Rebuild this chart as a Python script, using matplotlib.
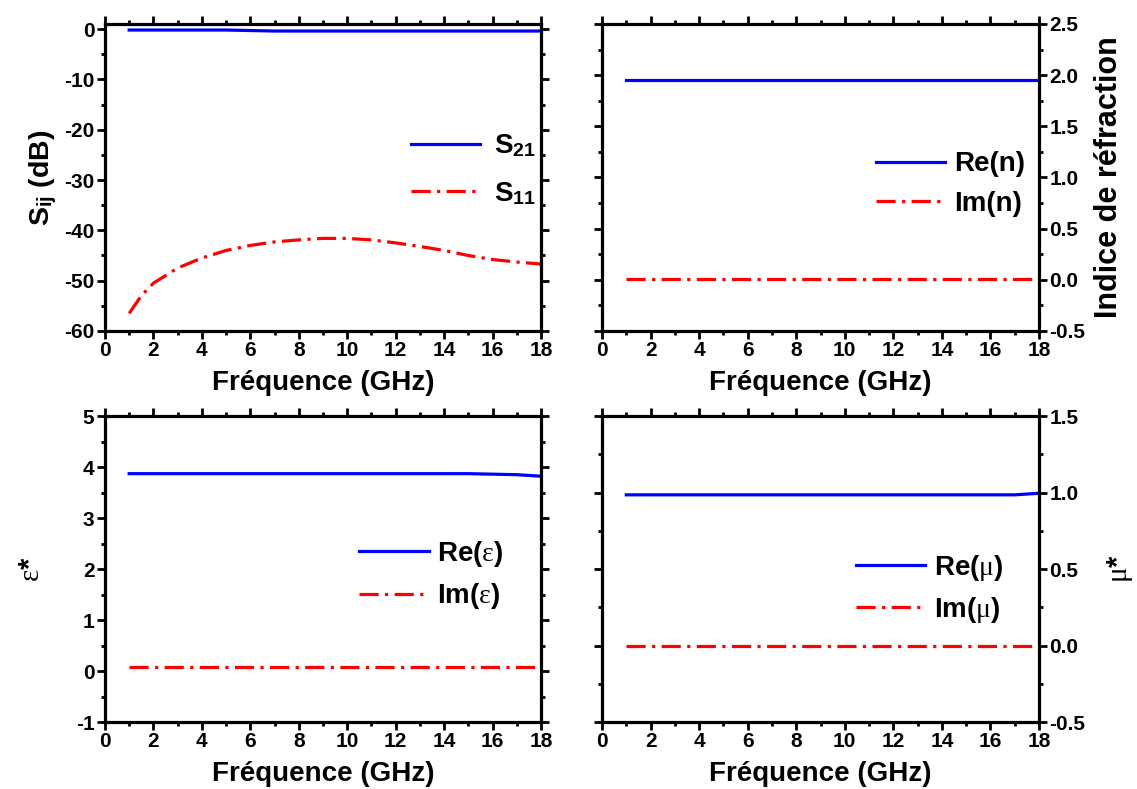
import numpy as np
import matplotlib
matplotlib.use("Agg")
import matplotlib.pyplot as plt
from matplotlib.ticker import MultipleLocator, FormatStrFormatter

plt.rcParams['font.family'] = ['Liberation Sans', 'DejaVu Sans']
plt.rcParams['font.weight'] = 'bold'
plt.rcParams['axes.unicode_minus'] = False
plt.rcParams['mathtext.fontset'] = 'custom'
plt.rcParams['mathtext.rm'] = 'Liberation Serif:weight=normal'
plt.rcParams['mathtext.it'] = 'Liberation Serif:italic:weight=normal'
plt.rcParams['mathtext.bf'] = 'Liberation Serif:bold'

# frequency axis (GHz)
freq = [1, 1.5, 2, 3, 4, 5, 6, 7, 8, 9, 10, 11, 12, 13, 14, 15, 16, 17, 18]

s21 = [-0.2, -0.2, -0.2, -0.2, -0.2, -0.2, -0.3, -0.4, -0.4, -0.4, -0.4,
       -0.4, -0.4, -0.4, -0.4, -0.4, -0.4, -0.4, -0.4]
s11 = [-56.5, -53.0, -50.5, -47.5, -45.5, -44.0, -43.0, -42.3, -41.9, -41.6,
       -41.6, -41.9, -42.5, -43.2, -44.0, -45.0, -45.8, -46.3, -46.7]

re_n = [1.95] * len(freq)
im_n = [0.01] * len(freq)

re_eps = [3.87, 3.87, 3.87, 3.87, 3.87, 3.87, 3.87, 3.87, 3.87, 3.87, 3.87,
          3.87, 3.87, 3.87, 3.87, 3.87, 3.86, 3.85, 3.82]
im_eps = [0.07] * len(freq)

re_mu = [0.985] * (len(freq) - 1) + [0.995]
im_mu = [0.0] * len(freq)

BLUE = '#0000ff'
RED = '#ff0000'
DASHDOT = (0, (6, 2, 1, 2))

fig = plt.figure(figsize=(11.37, 7.89), dpi=100)
ax_s = fig.add_axes([0.0923, 0.5805, 0.3835, 0.3891])
ax_n = fig.add_axes([0.5295, 0.5805, 0.3843, 0.3891])
ax_e = fig.add_axes([0.0923, 0.0849, 0.3835, 0.3878])
ax_m = fig.add_axes([0.5295, 0.0849, 0.3843, 0.3878])


def style(ax, ylim, ymaj, ymin, right=False, fmt=None):
    ax.set_xlim(0, 18)
    ax.set_ylim(*ylim)
    ax.xaxis.set_major_locator(MultipleLocator(2))
    ax.xaxis.set_minor_locator(MultipleLocator(1))
    ax.yaxis.set_major_locator(MultipleLocator(ymaj))
    ax.yaxis.set_minor_locator(MultipleLocator(ymin))
    if fmt:
        ax.yaxis.set_major_formatter(FormatStrFormatter(fmt))
    for sp in ax.spines.values():
        sp.set_linewidth(2.3)
    ax.tick_params(which='both', direction='out', top=True, right=True,
                   left=True, bottom=True, width=2, labelsize=15, pad=2)
    ax.tick_params(which='major', length=5.5)
    ax.tick_params(which='minor', length=3)
    if right:
        ax.tick_params(labelleft=False, labelright=True)
        ax.yaxis.set_label_position('right')
    for lab in ax.get_xticklabels() + ax.get_yticklabels():
        lab.set_fontweight('bold')
    ax.set_xlabel('Fréquence (GHz)', fontsize=20, fontweight='bold', labelpad=7)


def legend(ax, anchor, spacing, textpad=0.3):
    ax.legend(frameon=False, loc='center left', bbox_to_anchor=anchor,
              fontsize=20, handlelength=2.5, handletextpad=textpad,
              labelspacing=spacing, borderpad=0, borderaxespad=0)


# S parameters
ax_s.plot(freq, s21, color=BLUE, lw=2.3, label='S$_{\\mathregular{21}}$')
ax_s.plot(freq, s11, color=RED, lw=2.3, ls=DASHDOT, label='S$_{\\mathregular{11}}$')
style(ax_s, (-60, 1), 10, 5)
ax_s.set_ylabel('S$_{\\mathregular{ij}}$ (dB)', fontsize=20.5, fontweight='bold', labelpad=4)
legend(ax_s, (0.702, 0.525), 0.75, textpad=0.5)

# refractive index
ax_n.plot(freq, re_n, color=BLUE, lw=2.3, label='Re(n)')
ax_n.plot(freq, im_n, color=RED, lw=2.3, ls=DASHDOT, label='Im(n)')
style(ax_n, (-0.5, 2.5), 0.5, 0.25, right=True, fmt='%.1f')
ax_n.set_ylabel('Indice de réfraction', fontsize=22, fontweight='bold', labelpad=6)
legend(ax_n, (0.627, 0.478), 0.5)

# permittivity
ax_e.plot(freq, re_eps, color=BLUE, lw=2.3, label='Re($\\mathrm{\\varepsilon}$)')
ax_e.plot(freq, im_eps, color=RED, lw=2.3, ls=DASHDOT, label='Im($\\mathrm{\\varepsilon}$)')
style(ax_e, (-1, 5), 1, 0.5)
ax_e.set_ylabel('$\\mathrm{\\varepsilon}$*', fontsize=21, fontweight='bold', labelpad=22)
legend(ax_e, (0.583, 0.48), 0.45)

# permeability
ax_m.plot(freq, re_mu, color=BLUE, lw=2.3, label='Re($\\mathrm{\\mu}$)')
ax_m.plot(freq, im_mu, color=RED, lw=2.3, ls=DASHDOT, label='Im($\\mathrm{\\mu}$)')
style(ax_m, (-0.5, 1.5), 0.5, 0.25, right=True, fmt='%.1f')
ax_m.set_ylabel('$\\mathrm{\\mu}$*', fontsize=21, fontweight='bold', labelpad=14)
legend(ax_m, (0.581, 0.435), 0.45)

fig.savefig('out.png', dpi=100)
